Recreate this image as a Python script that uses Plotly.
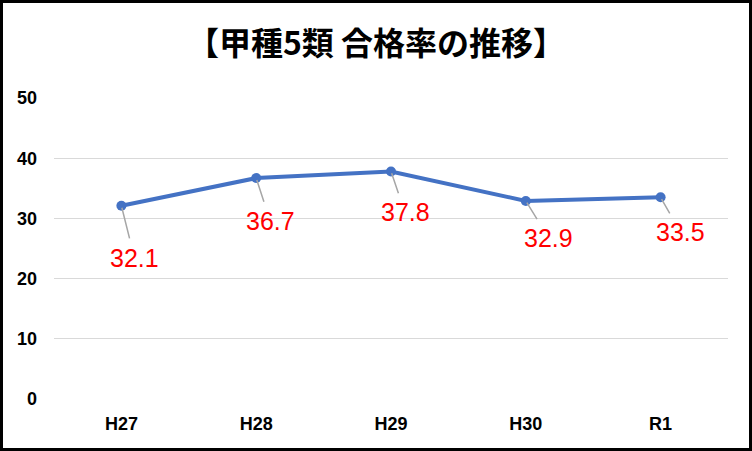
import plotly.graph_objects as go

categories = ["H27", "H28", "H29", "H30", "R1"]
pass_rates = [32.1, 36.7, 37.8, 32.9, 33.5]
label_dx = [13, 14, 14, 23, 20]
label_dy = [52, 43, 41, 37, 35]
y_ticks = [0, 10, 20, 30, 40, 50]

W, H = 752, 451
ML, MR, MT, MB = 54, 24, 98, 52

fig = go.Figure()
fig.add_trace(go.Scatter(
    x=categories, y=pass_rates, mode="lines+markers",
    line=dict(color="#4472C4", width=4),
    marker=dict(color="#4472C4", size=10),
    hoverinfo="skip", showlegend=False,
))

annotations = []
for c, v, dx, dy in zip(categories, pass_rates, label_dx, label_dy):
    annotations.append(dict(
        x=c, y=v, xref="x", yref="y",
        text=f"{v:.1f}", showarrow=True, arrowhead=0, arrowwidth=1.5,
        arrowcolor="#A6A6A6", ax=dx, ay=dy, standoff=2, startstandoff=4,
        font=dict(family="Liberation Sans, Arial, sans-serif", size=25, color="#FF0000"),
    ))

pw = W - ML - MR
ph = H - MT - MB
fig.add_shape(
    type="rect", xref="paper", yref="paper",
    x0=(1.5 - ML) / pw, x1=(W - 1.5 - ML) / pw,
    y0=((H - MB) - (H - 1.5)) / ph, y1=((H - MB) - 1.5) / ph,
    line=dict(color="black", width=3), fillcolor="rgba(0,0,0,0)", layer="above",
)

tick_font = dict(family="Liberation Sans, Arial, sans-serif", size=18, color="black", weight="bold")

fig.update_layout(
    width=W, height=H,
    margin=dict(l=ML, r=MR, t=MT, b=MB),
    paper_bgcolor="white", plot_bgcolor="white",
    title=dict(
        text="<b>【甲種5類 合格率の推移】</b>",
        x=0.5, xanchor="center", y=1 - 44 / H, yanchor="middle",
        font=dict(family="Noto Sans CJK JP, sans-serif", size=32, color="black"),
    ),
    xaxis=dict(
        type="category", range=[-0.5, 4.5], showgrid=False, zeroline=False,
        showline=False, ticks="", tickfont=tick_font, ticklabelstandoff=12,
    ),
    yaxis=dict(
        range=[0, 50], tickvals=y_ticks, showgrid=True, gridcolor="#D9D9D9", gridwidth=1,
        zeroline=False, showline=False, ticks="", tickfont=tick_font,
        ticklabelstandoff=16,
    ),
    annotations=annotations,
)

fig.write_html(
    "out.html",
    config={"displayModeBar": False},
    post_script="document.body.style.margin='0px';document.body.style.overflow='hidden';",
)
